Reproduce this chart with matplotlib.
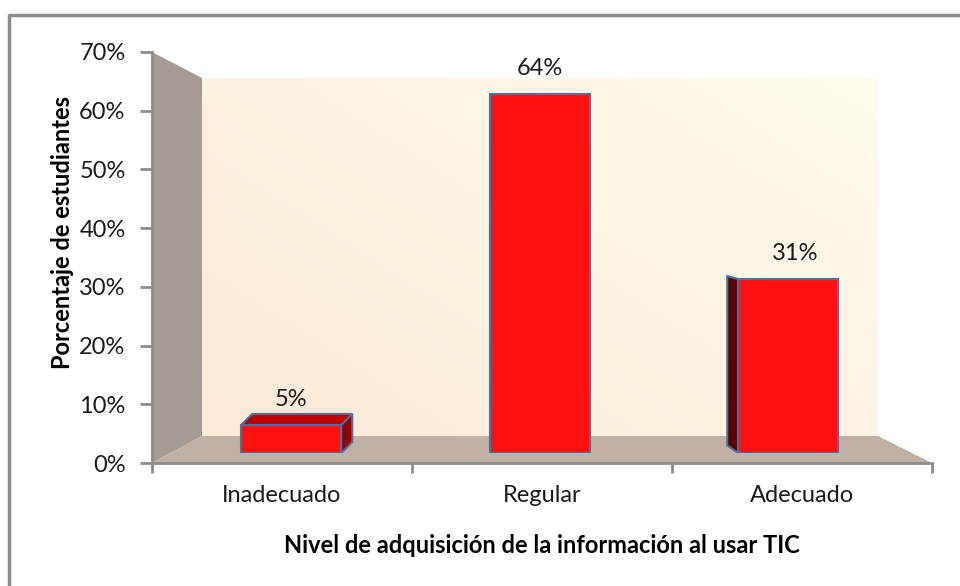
"""Excel-style 3D column chart: nivel de adquisición de la información al usar TIC."""

import matplotlib
matplotlib.use("Agg")
import matplotlib.pyplot as plt
import numpy as np
from matplotlib.patches import Polygon, Rectangle
from matplotlib.ticker import FuncFormatter, FixedLocator

categories = ["Inadecuado", "Regular", "Adecuado"]
values = [0.05, 0.64, 0.31]
labels = ["5%", "64%", "31%"]
y_ticks = [0.0, 0.1, 0.2, 0.3, 0.4, 0.5, 0.6, 0.7]

W, H = 960, 586
FONT = "Lato"
FS = 17


def fig_box(x0, y_top, x1, y_bot):
    """pixel box (origin top-left) -> figure fraction rect"""
    return [x0 / W, 1 - y_bot / H, (x1 - x0) / W, (y_bot - y_top) / H]


fig = plt.figure(figsize=(W / 100, H / 100), dpi=100)
fig.patch.set_facecolor("white")

# background: chart border, walls and floor, in pixel coordinates
bg = fig.add_axes([0, 0, 1, 1], zorder=0)
bg.set_xlim(0, W)
bg.set_ylim(H, 0)
bg.axis("off")

bg.plot([9, 9, 960], [586, 15, 15], color="#8c8c8c", lw=2.5, solid_capstyle="butt")

grad = np.linspace(0, 1, 256)
gx, gy = np.meshgrid(grad, grad)
t = np.clip(0.55 * gx + 0.45 * (1 - gy), 0, 1)
c0 = np.array([0xfc, 0xe9, 0xd8]) / 255
c1 = np.array([0xff, 0xfc, 0xec]) / 255
img = c0[None, None, :] * (1 - t[..., None]) + c1[None, None, :] * t[..., None]
bg.imshow(img, extent=[202, 878, 436, 78], aspect="auto", zorder=1)

bg.add_patch(Polygon([[152, 52], [202, 78], [202, 436], [152, 463]], closed=True,
                     facecolor="#a69b93", edgecolor="none", zorder=2))
bg.add_patch(Polygon([[152, 463], [202, 436], [878, 436], [932, 463]], closed=True,
                     facecolor="#c0b1a4", edgecolor="none", zorder=2))

# value axis / category axis
ax = fig.add_axes(fig_box(152, 52, 932, 463), zorder=1)
ax.patch.set_alpha(0)
ax.set_ylim(0, 0.7)
ax.set_xlim(0, 3)
ax.yaxis.set_major_locator(FixedLocator(y_ticks))
ax.yaxis.set_major_formatter(FuncFormatter(lambda v, _: f"{v * 100:.0f}%"))
ax.xaxis.set_major_locator(FixedLocator([0, 1, 2, 3]))
ax.xaxis.set_major_formatter(FuncFormatter(lambda v, _: ""))
ax.xaxis.set_minor_locator(FixedLocator([0.5, 1.5, 2.5]))
ax.set_xticklabels(categories, minor=True)
ax.tick_params(axis="x", which="minor", length=0, pad=16, labelsize=FS, labelcolor="#1a1a1a")
ax.tick_params(axis="x", which="major", length=7, width=2, color="#8c8c8c")
ax.tick_params(axis="y", length=9, width=2, color="#8c8c8c", labelsize=FS,
               labelcolor="#1a1a1a", pad=10)
for lbl in ax.get_xticklabels(minor=True) + ax.get_yticklabels():
    lbl.set_fontfamily(FONT)
for side in ("top", "right"):
    ax.spines[side].set_visible(False)
for side in ("left", "bottom"):
    ax.spines[side].set_color("#8c8c8c")
    ax.spines[side].set_linewidth(2)
ax.set_ylabel("Porcentaje de estudiantes", fontsize=FS, fontweight="bold",
              fontfamily=FONT)
ax.set_xlabel("Nivel de adquisición de la información al usar TIC", fontsize=FS,
              fontweight="bold", fontfamily=FONT, labelpad=20)
ax.yaxis.set_label_coords(-0.100, 0.56)

# bars: own scale (bars stand at mid depth, perspective-shrunk)
PX_X, PX_Y = 248.5, 561.0  # pixels per x unit / per 1.0 value
bx = fig.add_axes(fig_box(167, 453 - 0.7 * PX_Y, 167 + 3 * PX_X, 453), zorder=2)
bx.set_xlim(0, 3)
bx.set_ylim(0, 0.7)
bx.axis("off")

bar_w = 100 / PX_X
centers = [0.5, 1.5, 2.5]
edge = "#4f6f9f"
# side offset per bar (pixels): left bar shows top+right face, right bar shows left face
offsets = [(11, 11), (0, 0), (-11, 3)]
for xc, v, lab, (ox, oy) in zip(centers, values, labels, offsets):
    x0, x1 = xc - bar_w / 2, xc + bar_w / 2
    dx, dy = ox / PX_X, oy / PX_Y
    if ox > 0:
        bx.add_patch(Polygon([[x0, v], [x0 + dx, v + dy], [x1 + dx, v + dy], [x1, v]],
                             closed=True, facecolor="#c00000", edgecolor=edge, lw=1.5, zorder=3))
        bx.add_patch(Polygon([[x1, 0], [x1 + dx, dy], [x1 + dx, v + dy], [x1, v]],
                             closed=True, facecolor="#900000", edgecolor=edge, lw=1.5, zorder=3))
    elif ox < 0:
        bx.add_patch(Polygon([[x0, 0], [x0 + dx, dy * 2.5], [x0 + dx, v + dy], [x0, v]],
                             closed=True, facecolor="#5c0000", edgecolor=edge, lw=1.5, zorder=3))
    bx.add_patch(Rectangle((x0, 0), bar_w, v, facecolor="#ff1010", edgecolor=edge,
                           lw=1.5, zorder=4))
    shift = 7 / PX_X if ox < 0 else 0
    bx.text(xc + shift, v + 0.045, lab, ha="center", va="center",
            fontsize=FS, fontfamily=FONT, color="#1a1a1a", zorder=5)

fig.savefig("out.png", dpi=100)
